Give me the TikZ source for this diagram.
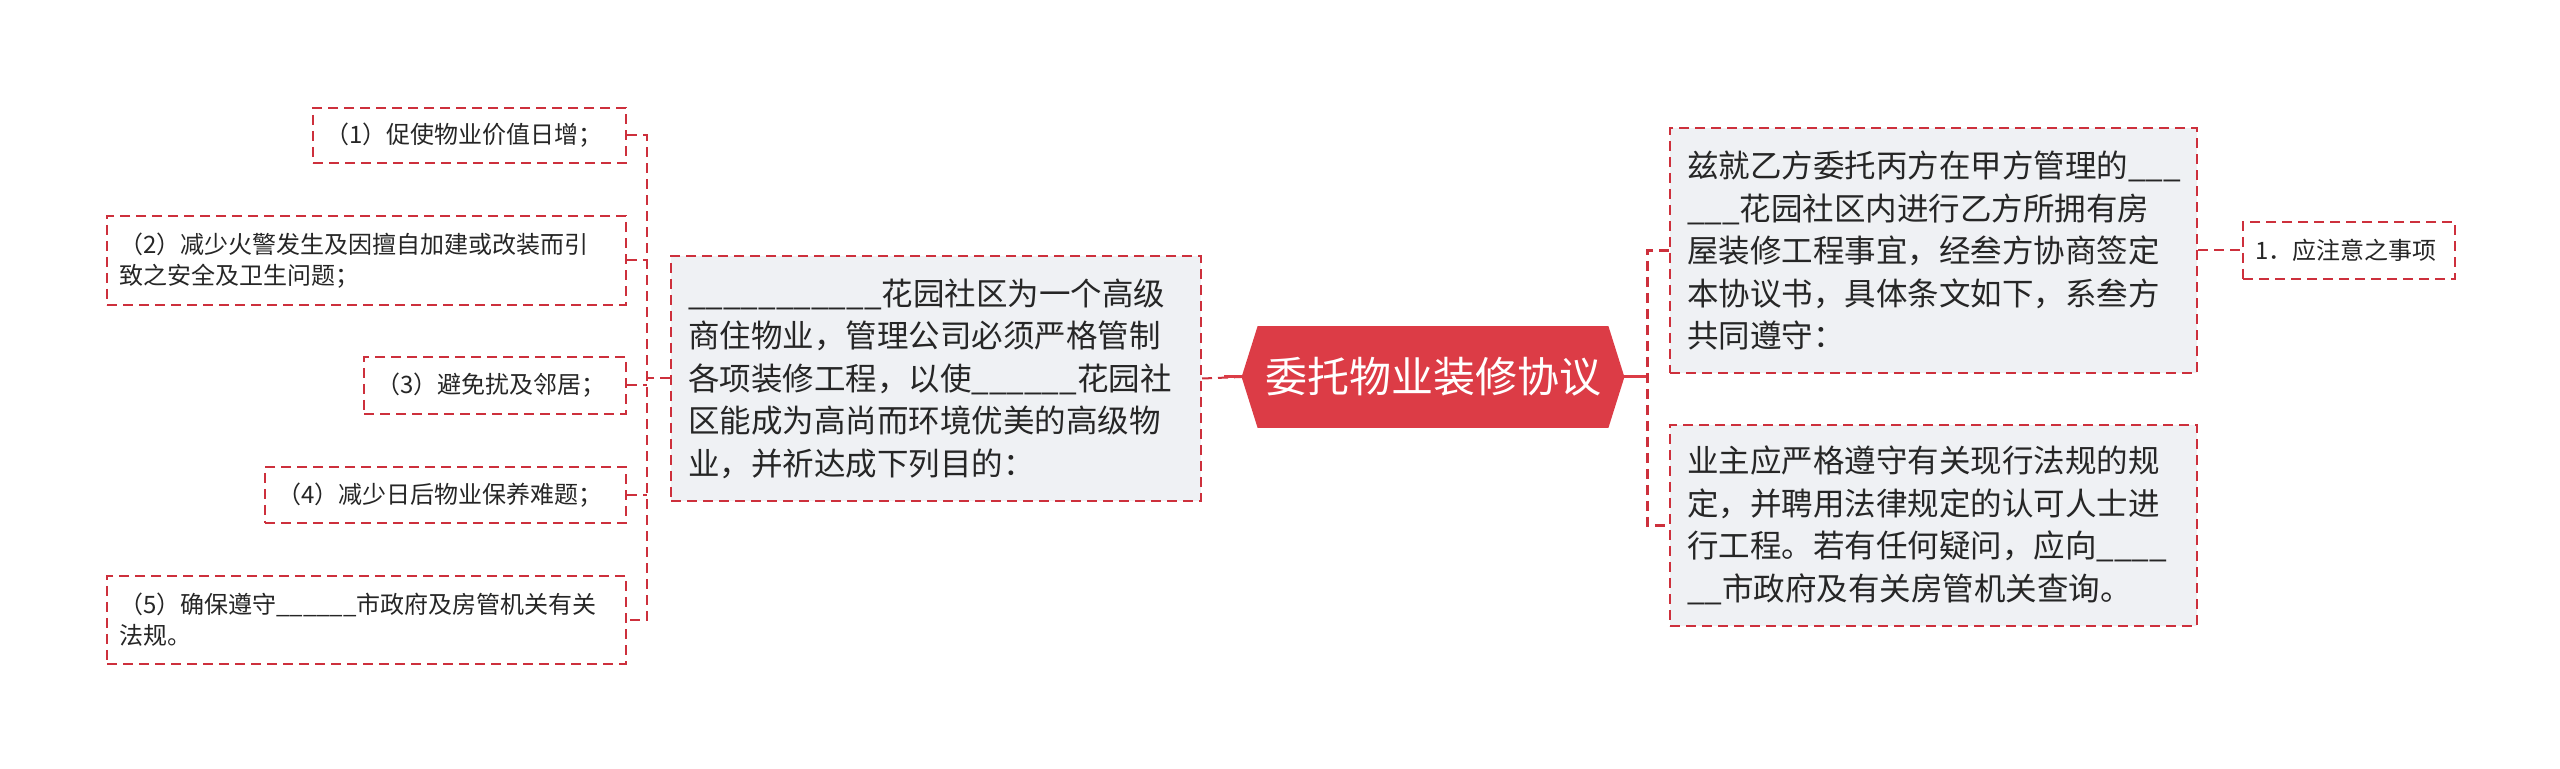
\documentclass[tikz,border=0pt]{standalone}
\usepackage{fontspec}
\setmainfont{Noto Sans CJK SC}
\usetikzlibrary{backgrounds}
\definecolor{boxred}{RGB}{205,48,60}
\definecolor{rootred}{RGB}{220,60,70}
\definecolor{boxgray}{RGB}{239,241,244}
\definecolor{ink}{RGB}{38,38,38}
\begin{document}
\begin{tikzpicture}[x=0.5pt,y=-0.5pt,
  leaf/.style={draw=boxred, line width=1pt, dash pattern=on 5pt off 3pt, fill=white, anchor=north west, inner xsep=6pt, inner ysep=0pt, align=left, text=ink, font=\fontsize{12pt}{15.5pt}\selectfont},
  main/.style={leaf, fill=boxgray, inner xsep=8.5pt, font=\fontsize{15.75pt}{21.25pt}\selectfont},
  conn/.style={draw=boxred, line width=1pt, dash pattern=on 5pt off 3pt},
  trunk/.style={conn, line width=1.5pt},
  stem/.style={draw=rootred, line width=1.5pt}]
\useasboundingbox (0,0) rectangle (2560,769);

% left leaves
\node[leaf, text width=144.5pt, minimum height=27.5pt] (l1) at (312,107) {（1）促使物业价值日增；};
\node[leaf, text width=247.5pt, minimum height=44.5pt] (l2) at (106,215) {（2）减少火警发生及因擅自加建或改装而引\\致之安全及卫生问题；};
\node[leaf, text width=119pt, minimum height=28.5pt] (l3) at (363,356) {（3）避免扰及邻居；};
\node[leaf, text width=168.5pt, minimum height=28pt] (l4) at (264,466) {（4）减少日后物业保养难题；};
\node[leaf, text width=247.5pt, minimum height=44pt] (l5) at (106,575) {（5）确保遵守\_\_\_\_\_\_市政府及房管机关有关\\法规。};

% middle left
\node[main, text width=248pt, minimum height=122.5pt] (m) at (670,255) {\_\_\_\_\_\_\_\_\_\_\_花园社区为一个高级\\商住物业，管理公司必须严格管制\\各项装修工程，以使\_\_\_\_\_\_花园社\\区能成为高尚而环境优美的高级物\\业，并祈达成下列目的：};

% root
\node[minimum width=191pt, minimum height=50.5pt, inner sep=0pt, text=white, font=\fontsize{21pt}{25pt}\selectfont] (root) at (1433,377) {委托物业装修协议};
\begin{scope}[on background layer]
\fill[rootred] (root.west) -- ([xshift=8pt]root.north west) -- ([xshift=-8pt]root.north east) -- (root.east) -- ([xshift=-8pt]root.south east) -- ([xshift=8pt]root.south west) -- cycle;
\end{scope}

% right
\node[main, text width=246.5pt, minimum height=122.5pt] (r1) at (1669,127) {兹就乙方委托丙方在甲方管理的\_\_\_\\\_\_\_花园社区内进行乙方所拥有房\\屋装修工程事宜，经叁方协商签定\\本协议书，具体条文如下，系叁方\\共同遵守：};
\node[main, text width=246.5pt, minimum height=100.5pt] (r2) at (1669,424) {业主应严格遵守有关现行法规的规\\定，并聘用法律规定的认可人士进\\行工程。若有任何疑问，应向\_\_\_\_\\\_\_市政府及有关房管机关查询。};
\node[leaf, text width=94pt, minimum height=28.5pt] (s) at (2242,221) {1．应注意之事项};

% connectors left
\path (m.west) ++(-11.5pt,0) coordinate (lj);
\draw[conn] (m.west) -- (lj);
\draw[conn] (l1.east) -| (lj |- l5.east) -- (l5.east);
\draw[conn] (l2.east) -- (l2.east -| lj);
\draw[conn] (l3.east) -- (l3.east -| lj);
\draw[conn] (l4.east) -- (l4.east -| lj);
\draw[conn] (m.east) -- (root.west);
\draw[stem] (root.west) -- ++(-9pt,0);

% connectors right
\path (root.east) ++(11.5pt,0) coordinate (rj);
\draw[stem] (root.east) -- (rj);
\draw[trunk] (r1.west) -| (rj |- r2.west) -- (r2.west);
\draw[conn] (r1.east) -- (s.west);
\end{tikzpicture}
\end{document}
